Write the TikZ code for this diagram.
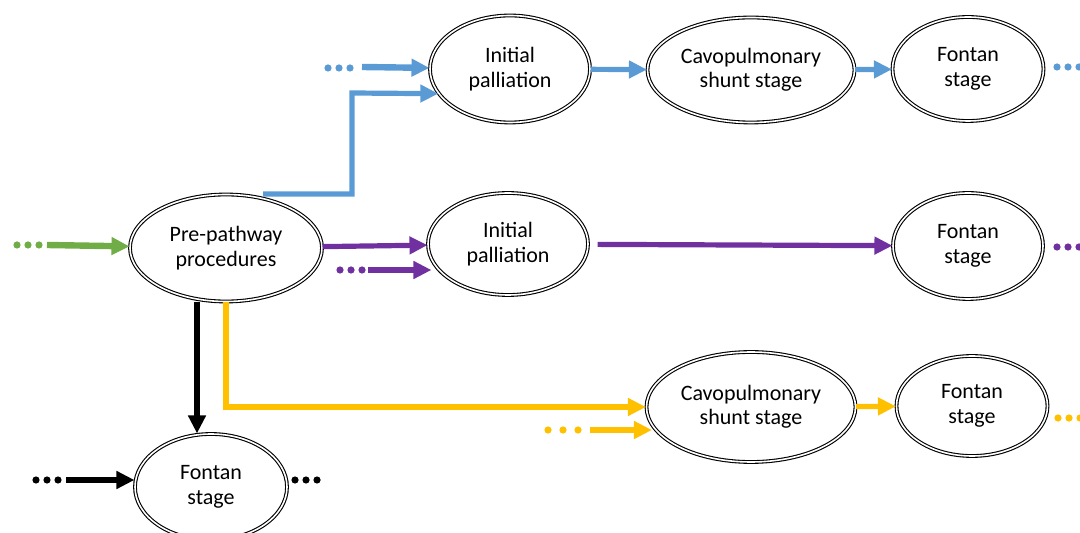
\documentclass[tikz,border=0pt]{standalone}
\usepackage{fontspec}
\setmainfont{Carlito}
\usepackage{tikz}
\usetikzlibrary{calc}
\usetikzlibrary{arrows.meta,shapes.geometric}

\definecolor{pathblue}{HTML}{5B9BD5}
\definecolor{pathgreen}{HTML}{70AD47}
\definecolor{pathpurple}{HTML}{7030A0}
\definecolor{pathyellow}{HTML}{FFC000}

\tikzset{
  stage/.style={
    draw, ellipse, double,
    line width=0.55pt, double distance=0.8pt,
    inner sep=0pt, align=center,
    font=\fontsize{11}{12.2}\selectfont
  },
  flow/.style={line width=2.6pt, -{Triangle[length=9pt,width=8.5pt]}},
  feed/.style={flow, line width=3.2pt}
}

% three dots: colour, first dot, spacing
\newcommand{\dotrow}[3]{%
  \foreach \k in {0,1,2}
    \fill[#1] ($(#2)+(\k*#3,0)$) circle[radius=1.8pt];}

\begin{document}
\begin{tikzpicture}[x=0.5pt,y=-0.5pt]

\useasboundingbox (0,0) rectangle (1080,533);

% Nodes
\node[stage, minimum width=80pt, minimum height=53.5pt]
  (ip1) at (510,69) {Initial\\ palliation};
\node[stage, minimum width=103.5pt, minimum height=52.5pt]
  (cs1) at (751,70) {Cavopulmonary\\ shunt stage};
\node[stage, minimum width=75.5pt, minimum height=52pt]
  (fs1) at (968,69) {Fontan\\ stage};

\node[stage, minimum width=96pt, minimum height=53.5pt]
  (pre) at (226,248) {Pre-pathway\\ procedures};
\node[stage, minimum width=80pt, minimum height=51pt]
  (ip2) at (508,244) {Initial\\ palliation};
\node[stage, minimum width=75pt, minimum height=53pt]
  (fs2) at (968,246) {Fontan\\ stage};

\node[stage, minimum width=104.5pt, minimum height=55pt]
  (cs2) at (751,407) {Cavopulmonary\\ shunt stage};
\node[stage, minimum width=75.5pt, minimum height=50pt]
  (fs3) at (972,406) {Fontan\\ stage};
\node[stage, minimum width=76pt, minimum height=53pt]
  (fs4) at (211,487) {Fontan\\ stage};

% Free ends
\coordinate (bin) at (362,67);
\coordinate (bturn) at (352,93);
\coordinate (gin) at (47,245);
\coordinate (pin) at (368,270);
\coordinate (kin) at (66,480);
\coordinate (yin) at (590,430);

% Dots
\dotrow{pathblue}{328,68}{11}
\dotrow{pathblue}{1057,67}{11}
\dotrow{pathgreen}{17,245}{11}
\dotrow{pathpurple}{340,270}{11}
\dotrow{pathpurple}{1057,247}{11}
\dotrow{black}{36,480}{11}
\dotrow{black}{295,480}{11}
\dotrow{pathyellow}{548,430}{15}
\dotrow{pathyellow}{1058,418}{11}

% Blue pathway
\draw[feed, pathblue] (bin) -- (ip1);
\draw[flow, pathblue] ([xshift=18.5pt]pre.north) -| (bturn) -- (ip1.199);
\draw[flow, pathblue] (ip1) -- (cs1);
\draw[flow, pathblue] (cs1) -- (fs1);

% Green and purple pathway
\draw[feed, pathgreen] (gin) -- (pre);
\draw[flow, pathpurple] (pre) -- (ip2);
\draw[feed, pathpurple] (pin) -- ([xshift=2pt]pin -| ip2.west);
\draw[flow, pathpurple, shorten <=4.5pt] (ip2) -- (fs2);

% Black pathway
\draw[flow] ([xshift=-14.5pt]pre.south)
  -- ([xshift=-14.5pt]pre.south |- fs4.north);
\draw[feed] (kin) -- (kin -| fs4.west);

% Yellow pathway
\draw[flow, pathyellow] (pre.south) |- (cs2);
\draw[feed, pathyellow] (yin) -- ([xshift=3pt]yin -| cs2.west);
\draw[flow, pathyellow] (cs2) -- (fs3);

\end{tikzpicture}
\end{document}
